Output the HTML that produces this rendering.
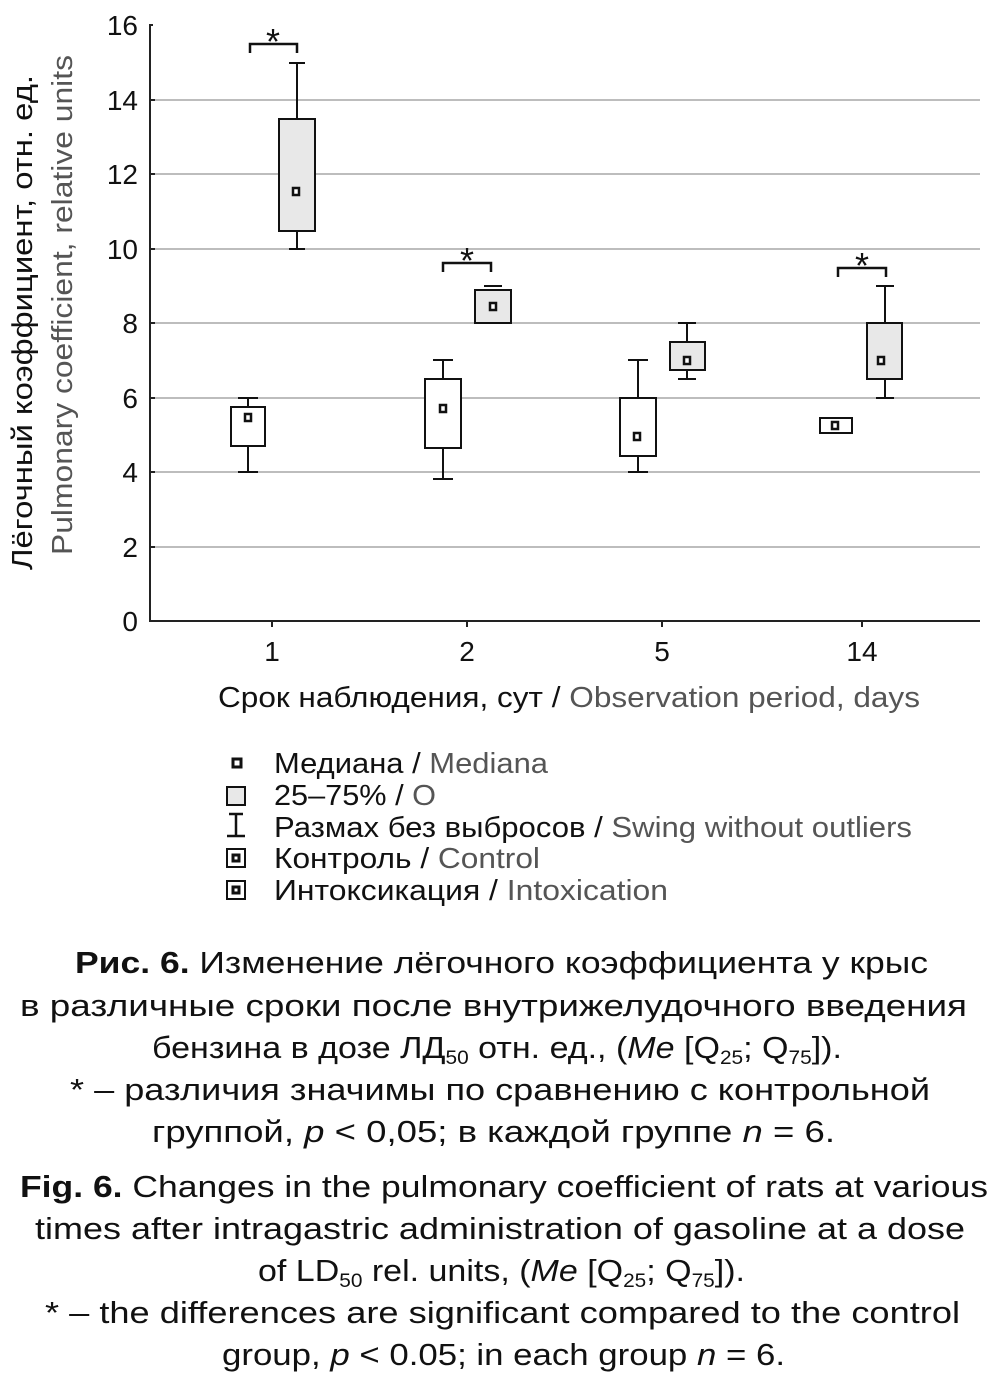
<!DOCTYPE html>
<html><head><meta charset="utf-8"><style>
body{margin:0;background:#fff;width:1007px;height:1400px;overflow:hidden}
svg{display:block}
text{font-family:"Liberation Sans","DejaVu Sans",sans-serif;fill:#111}
.g{fill:#555}
</style></head><body>
<svg width="1007" height="1400" viewBox="0 0 1007 1400">
<g stroke="#bdbdbd" stroke-width="2">
<line x1="155" y1="547" x2="980" y2="547"/>
<line x1="155" y1="472" x2="980" y2="472"/>
<line x1="155" y1="398" x2="980" y2="398"/>
<line x1="155" y1="323" x2="980" y2="323"/>
<line x1="155" y1="249" x2="980" y2="249"/>
<line x1="155" y1="174" x2="980" y2="174"/>
<line x1="155" y1="100" x2="980" y2="100"/>
</g>
<g stroke="#222" stroke-width="2" fill="none">
<polyline points="153,25 150,25 150,621 980,621"/>
<line x1="150" y1="547" x2="155" y2="547"/><line x1="150" y1="472" x2="155" y2="472"/>
<line x1="150" y1="398" x2="155" y2="398"/><line x1="150" y1="323" x2="155" y2="323"/>
<line x1="150" y1="249" x2="155" y2="249"/><line x1="150" y1="174" x2="155" y2="174"/>
<line x1="150" y1="100" x2="155" y2="100"/>
<line x1="272" y1="621" x2="272" y2="627"/><line x1="467" y1="621" x2="467" y2="627"/>
<line x1="662" y1="621" x2="662" y2="627"/><line x1="862" y1="621" x2="862" y2="627"/>
</g>
<g font-size="28" text-anchor="end">
<text x="138" y="631">0</text><text x="138" y="557">2</text><text x="138" y="482">4</text>
<text x="138" y="408">6</text><text x="138" y="333">8</text><text x="138" y="259">10</text>
<text x="138" y="184">12</text><text x="138" y="110">14</text><text x="138" y="35">16</text>
</g>
<g font-size="28" text-anchor="middle">
<text x="272" y="661">1</text><text x="467" y="661">2</text><text x="662" y="661">5</text><text x="862" y="661">14</text>
</g>
<text font-size="29" x="218" y="707" textLength="702" lengthAdjust="spacingAndGlyphs">Срок наблюдения, сут / <tspan class="g">Observation period, days</tspan></text>
<g font-size="29">
<text transform="translate(32,570) rotate(-90)" textLength="495" lengthAdjust="spacingAndGlyphs">Лёгочный коэффициент, отн. ед.</text>
<text class="g" transform="translate(72,555) rotate(-90)" textLength="500" lengthAdjust="spacingAndGlyphs">Pulmonary coefficient, relative units</text>
</g>
<!-- boxes -->
<g stroke="#111" stroke-width="2">
<line x1="248" y1="472" x2="248" y2="398"/><line x1="238" y1="472" x2="258" y2="472"/><line x1="238" y1="398" x2="258" y2="398"/>
<rect x="231" y="407" width="34" height="39" fill="#fff"/>
<line x1="297" y1="249" x2="297" y2="63"/><line x1="289" y1="249" x2="305" y2="249"/><line x1="289" y1="63" x2="305" y2="63"/>
<rect x="279" y="119" width="36" height="112" fill="#e8e8e8"/>
<line x1="443" y1="479" x2="443" y2="360"/><line x1="433" y1="479" x2="453" y2="479"/><line x1="433" y1="360" x2="453" y2="360"/>
<rect x="425" y="379" width="36" height="69" fill="#fff"/>
<line x1="484" y1="286" x2="502" y2="286"/>
<rect x="475" y="290" width="36" height="33" fill="#e8e8e8"/>
<line x1="638" y1="472" x2="638" y2="360"/><line x1="628" y1="472" x2="648" y2="472"/><line x1="628" y1="360" x2="648" y2="360"/>
<rect x="620" y="398" width="36" height="58" fill="#fff"/>
<line x1="687" y1="379" x2="687" y2="323"/><line x1="678" y1="379" x2="696" y2="379"/><line x1="678" y1="323" x2="696" y2="323"/>
<rect x="670" y="342" width="35" height="28" fill="#e8e8e8"/>
<rect x="820" y="418" width="32" height="15" fill="#fff"/>
<line x1="885" y1="398" x2="885" y2="286"/><line x1="876" y1="398" x2="894" y2="398"/><line x1="876" y1="286" x2="894" y2="286"/>
<rect x="867" y="323" width="35" height="56" fill="#e8e8e8"/>
</g>
<g fill="#fff" stroke="#111" stroke-width="2.5">
<rect x="245" y="414" width="6" height="7"/><rect x="293" y="188" width="6" height="7"/>
<rect x="440" y="405" width="6" height="7"/><rect x="490" y="303" width="6" height="7"/>
<rect x="634" y="433" width="6" height="7"/><rect x="684" y="357" width="6" height="7"/>
<rect x="832" y="422" width="6" height="7"/><rect x="878" y="357" width="6" height="7"/>
</g>
<g stroke="#111" stroke-width="2.5" fill="none">
<polyline points="250,53 250,44 297,44 297,53"/>
<polyline points="443,272 443,263 491,263 491,272"/>
<polyline points="838,277 838,268 886,268 886,277"/>
</g>
<g font-size="36" text-anchor="middle">
<text x="273" y="54">*</text><text x="467" y="273">*</text><text x="862" y="278">*</text>
</g>
<!-- legend -->
<g stroke="#111" stroke-width="2.5" fill="none">
<rect x="233" y="759" width="8" height="8" fill="#fff" stroke-width="3"/>
<rect x="227" y="787" width="18" height="18" fill="#e8e8e8" stroke-width="2"/>
<line x1="236" y1="814" x2="236" y2="836"/><line x1="229" y1="814" x2="243" y2="814"/><line x1="227" y1="836" x2="245" y2="836"/>
<rect x="227" y="849" width="18" height="18" stroke-width="2"/><rect x="233" y="855" width="6" height="6" stroke-width="3"/>
<rect x="227" y="881" width="18" height="18" stroke-width="2"/><rect x="233" y="887" width="6" height="6" stroke-width="3"/>
</g>
<g font-size="29" lengthAdjust="spacingAndGlyphs">
<text x="274" y="773" textLength="274" lengthAdjust="spacingAndGlyphs">Медиана / <tspan class="g">Mediana</tspan></text>
<text x="274" y="805" textLength="162" lengthAdjust="spacingAndGlyphs">25–75% / <tspan class="g">O</tspan></text>
<text x="274" y="837" textLength="638" lengthAdjust="spacingAndGlyphs">Размах без выбросов / <tspan class="g">Swing without outliers</tspan></text>
<text x="274" y="868" textLength="266" lengthAdjust="spacingAndGlyphs">Контроль / <tspan class="g">Control</tspan></text>
<text x="274" y="900" textLength="394" lengthAdjust="spacingAndGlyphs">Интоксикация / <tspan class="g">Intoxication</tspan></text>
</g>
<g font-size="31">
<text x="75" y="973" textLength="853" lengthAdjust="spacingAndGlyphs"><tspan font-weight="bold">Рис. 6.</tspan> Изменение лёгочного коэффициента у крыс</text>
<text x="20" y="1016" textLength="947" lengthAdjust="spacingAndGlyphs">в различные сроки после внутрижелудочного введения</text>
<text x="152" y="1058" textLength="690" lengthAdjust="spacingAndGlyphs">бензина в дозе ЛД<tspan font-size="19" dy="6">50</tspan><tspan dy="-6"> отн. ед., (</tspan><tspan font-style="italic">Me</tspan> [Q<tspan font-size="19" dy="6">25</tspan><tspan dy="-6">; Q</tspan><tspan font-size="19" dy="6">75</tspan><tspan dy="-6">]).</tspan></text>
<text x="70" y="1100" textLength="860" lengthAdjust="spacingAndGlyphs">* – различия значимы по сравнению с контрольной</text>
<text x="152" y="1142" textLength="683" lengthAdjust="spacingAndGlyphs">группой, <tspan font-style="italic">p</tspan> &lt; 0,05; в каждой группе <tspan font-style="italic">n</tspan> = 6.</text>
<text x="20" y="1197" textLength="968" lengthAdjust="spacingAndGlyphs"><tspan font-weight="bold">Fig. 6.</tspan> Changes in the pulmonary coefficient of rats at various</text>
<text x="35" y="1239" textLength="930" lengthAdjust="spacingAndGlyphs">times after intragastric administration of gasoline at a dose</text>
<text x="258" y="1281" textLength="487" lengthAdjust="spacingAndGlyphs">of LD<tspan font-size="19" dy="6">50</tspan><tspan dy="-6"> rel. units, (</tspan><tspan font-style="italic">Me</tspan> [Q<tspan font-size="19" dy="6">25</tspan><tspan dy="-6">; Q</tspan><tspan font-size="19" dy="6">75</tspan><tspan dy="-6">]).</tspan></text>
<text x="45" y="1323" textLength="915" lengthAdjust="spacingAndGlyphs">* – the differences are significant compared to the control</text>
<text x="222" y="1365" textLength="563" lengthAdjust="spacingAndGlyphs">group, <tspan font-style="italic">p</tspan> &lt; 0.05; in each group <tspan font-style="italic">n</tspan> = 6.</text>
</g>
</svg>
</body></html>
